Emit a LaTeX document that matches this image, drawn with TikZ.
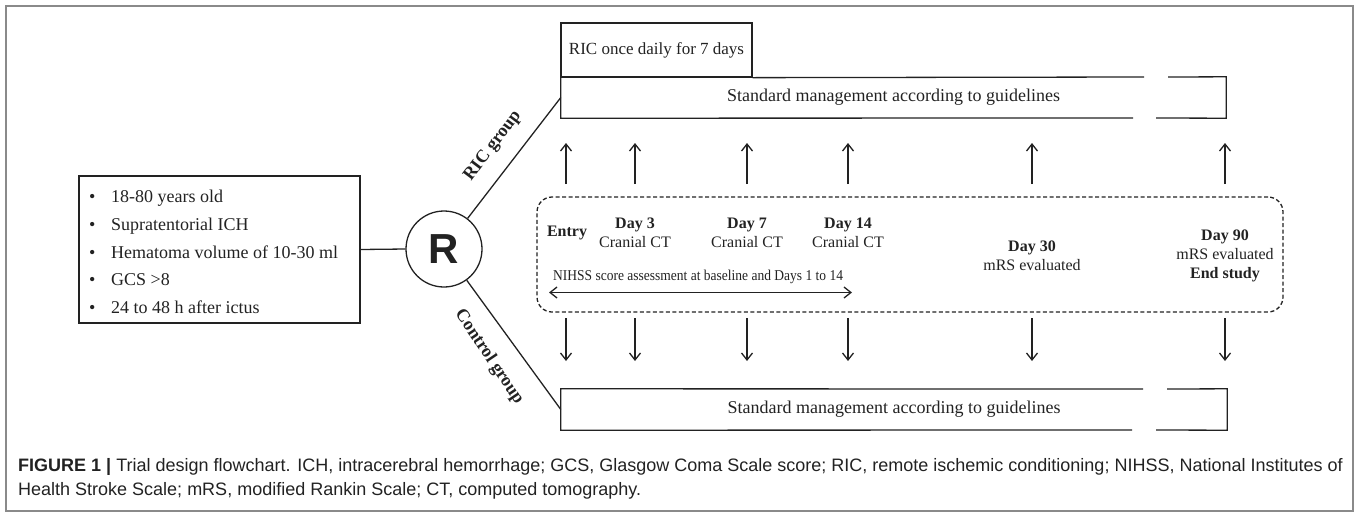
\documentclass[tikz,border=0pt]{standalone}
\usepackage{fontspec}
\setmainfont{Liberation Serif}
\newfontfamily\capfont{Liberation Sans}
\newfontfamily\condfont[FakeStretch=0.9]{Liberation Serif}
\usetikzlibrary{arrows.meta,calc}
\definecolor{ink}{HTML}{222222}
\definecolor{framecol}{HTML}{8A8A8A}
\tikzset{
  ln/.style={line width=1.3pt, draw=ink},
  arr/.style={line width=1.3pt, draw=ink, -{Straight Barb[length=7pt,width=11pt]}},
  darr/.style={line width=1.3pt, draw=ink, {Straight Barb[length=7pt,width=11pt]}-{Straight Barb[length=7pt,width=11pt]}},
  txt/.style={font=\fontsize{16}{19}\selectfont, align=center, inner sep=0pt, text=ink},
  grouplbl/.style={font=\bfseries\fontsize{18}{20}\selectfont, inner sep=0pt, text=ink},
  capline/.style={font=\capfont\fontsize{18}{22}\selectfont, anchor=west, inner sep=0pt, text=ink}
}
\begin{document}
\begin{tikzpicture}[x=1pt,y=-1pt]
\useasboundingbox (0,0) rectangle (1358,515);
\draw[framecol, line width=1.5pt] (6,6) rectangle (1353,511);

% inclusion criteria
\node[draw, ln, minimum width=281pt, minimum height=147pt, inner sep=0pt] (crit) at (219.5,249.5) {};
\node[anchor=west, align=left, inner sep=0pt, text=ink, font=\fontsize{18}{27.7}\selectfont] (critText) at (89,252)
 {\makebox[22pt][l]{\textbullet}18-80 years old\\
  \makebox[22pt][l]{\textbullet}Supratentorial ICH\\
  \makebox[22pt][l]{\textbullet}Hematoma volume of 10-30 ml\\
  \makebox[22pt][l]{\textbullet}GCS >8\\
  \makebox[22pt][l]{\textbullet}24 to 48 h after ictus};

% randomisation
\node[circle, draw, ln, minimum size=76pt, inner sep=0pt, text=ink, font=\capfont\bfseries\fontsize{42}{42}\selectfont] (R) at (444,249) {R};
\draw[ln] (crit.east) -- (R.west);

% RIC arm
\node[draw, ln, minimum width=191pt, minimum height=54pt, inner sep=0pt, text=ink, font=\fontsize{17}{20}\selectfont] (ric) at (656.5,50) {RIC once daily for 7 days};
\node[minimum width=665pt, minimum height=41pt, inner sep=0pt, text=ink, font=\fontsize{18}{21}\selectfont] (stdT) at (893.5,97.5) {Standard management according to guidelines};
\coordinate (tA) at (1144,77);
\coordinate (tB) at (1168,77);
\coordinate (tC) at (1156,118);
\coordinate (tD) at (1133,118);
\draw[ln] (ric.south east) -- (tA);
\draw[ln] (tB) -- (stdT.north east) -- (stdT.south east) -- (tC);
\draw[ln] (tD) -- (stdT.south west) -- (stdT.north west);

% control arm
\node[minimum width=666pt, minimum height=41pt, inner sep=0pt, text=ink, font=\fontsize{18}{21}\selectfont] (stdB) at (894,409.5) {Standard management according to guidelines};
\coordinate (bA) at (1143,389);
\coordinate (bB) at (1167,389);
\coordinate (bC) at (1156,430);
\coordinate (bD) at (1132,430);
\draw[ln] (bA) -- (stdB.north west) -- (stdB.south west) -- (bD);
\draw[ln] (bB) -- (stdB.north east) -- (stdB.south east) -- (bC);

\draw[ln] (R) -- (stdT.west);
\draw[ln] (R) -- (stdB.west);
\node[grouplbl, rotate=53] (ricLbl) at (493,146) {RIC group};
\node[grouplbl, rotate=-56] (ctlLbl) at (489,357) {Control group};

% timeline box
\node[draw, ln, dash pattern=on 4pt off 2.5pt, rounded corners=15pt, minimum width=746pt, minimum height=115pt, inner sep=0pt] (tl) at (910,254.5) {};

\foreach \x [count=\i] in {566,635,747,848,1032,1225} {
  \coordinate (ua\i) at (\x,184);
  \coordinate (ub\i) at (\x,143);
  \coordinate (da\i) at (\x,318);
  \coordinate (db\i) at (\x,361);
  \draw[arr] (ua\i) -- (ub\i);
  \draw[arr] (da\i) -- (db\i);
}

\node[txt, font=\bfseries\fontsize{16}{19}\selectfont] (entry) at (567,233) {Entry};
\node[txt] (d3) at (635,232.5) {\textbf{Day 3}\\Cranial CT};
\node[txt] (d7) at (747,232.5) {\textbf{Day 7}\\Cranial CT};
\node[txt] (d14) at (848,232.5) {\textbf{Day 14}\\Cranial CT};
\node[txt] (d30) at (1032,255.5) {\textbf{Day 30}\\mRS evaluated};
\node[txt] (d90) at (1225,255.5) {\textbf{Day 90}\\mRS evaluated\\\textbf{End study}};
\node[anchor=west, inner sep=0pt, text=ink, font=\condfont\fontsize{15}{18}\selectfont] (nihss) at (553,277) {NIHSS score assessment at baseline and Days 1 to 14};
\coordinate (na) at (549,292.5);
\coordinate (nb) at (852,292.5);
\draw[darr] (na) -- (nb);

% caption
\node[capline] (cap1) at (18,467) {\textbf{FIGURE 1 \textbar} Trial design flowchart. ICH, intracerebral hemorrhage; GCS, Glasgow Coma Scale score; RIC, remote ischemic conditioning; NIHSS, National Institutes of};
\node[capline] (cap2) at (18,491) {Health Stroke Scale; mRS, modified Rankin Scale; CT, computed tomography.};
\end{tikzpicture}
\end{document}
